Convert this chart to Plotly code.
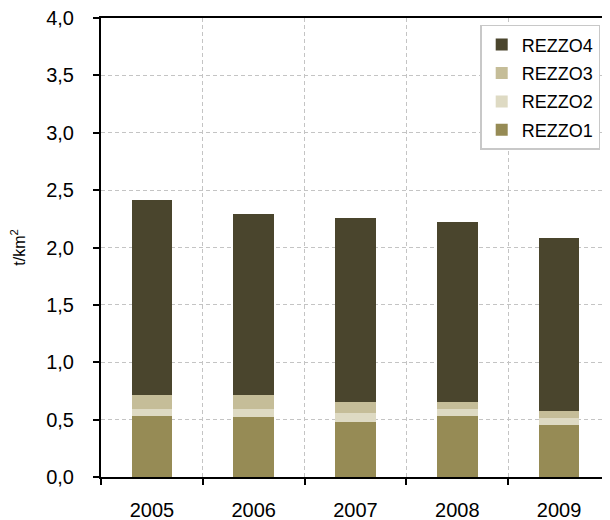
import plotly.graph_objects as go

years = ["2005", "2006", "2007", "2008", "2009"]
rezzo1 = [0.53, 0.52, 0.48, 0.53, 0.45]
rezzo2 = [0.06, 0.075, 0.075, 0.06, 0.06]
rezzo3 = [0.125, 0.12, 0.10, 0.065, 0.065]
rezzo4 = [1.70, 1.58, 1.60, 1.565, 1.51]

series = [
    ("REZZO1", rezzo1, "#968B55", 4),
    ("REZZO2", rezzo2, "#DEDAC3", 3),
    ("REZZO3", rezzo3, "#C5BD98", 2),
    ("REZZO4", rezzo4, "#4A452D", 1),
]

fig = go.Figure()
for name, vals, col, rank in series:
    fig.add_trace(go.Bar(
        x=years, y=vals, name=name, legendgroup=name, legendrank=rank,
        marker=dict(color=col, line=dict(width=0)),
        width=0.4,
    ))

FONT = "Arial, Liberation Sans, sans-serif"
fig.update_layout(
    width=602, height=512,
    barmode="stack",
    separators=",.",
    margin=dict(l=93, r=0, t=10, b=43),
    plot_bgcolor="white", paper_bgcolor="white",
    font=dict(family=FONT, size=20, color="#000000"),
    showlegend=True,
    legend=dict(
        x=0.745, y=0.985, xanchor="left", yanchor="top",
        traceorder="grouped", tracegroupgap=2,
        bordercolor="#C8C8C8", borderwidth=1.5, bgcolor="white",
        font=dict(family=FONT, size=18),
    ),
    xaxis=dict(
        type="category", range=[-0.5, 4.5], automargin=False,
        tickson="boundaries", ticks="outside", ticklen=6, tickwidth=2, tickcolor="black",
        showline=True, linecolor="black", linewidth=2, mirror=True,
        showgrid=True, gridcolor="#C4C4C4", griddash="4px,3px", gridwidth=1.3,
        tickfont=dict(size=20), ticklabelstandoff=14,
    ),
    yaxis=dict(
        range=[0, 4], dtick=0.5, tickformat=".1f", automargin=False,
        ticks="outside", ticklen=6, tickwidth=2, tickcolor="black",
        showline=True, linecolor="black", linewidth=2,
        showgrid=True, gridcolor="#C4C4C4", griddash="4px,3px", gridwidth=1.3,
        zeroline=False, ticklabeloverflow="allow",
        tickfont=dict(size=20), ticklabelstandoff=15,
        title=dict(text="t/km<sup>2</sup>", font=dict(size=16), standoff=20),
    ),
)

fig.write_html("out.html")
